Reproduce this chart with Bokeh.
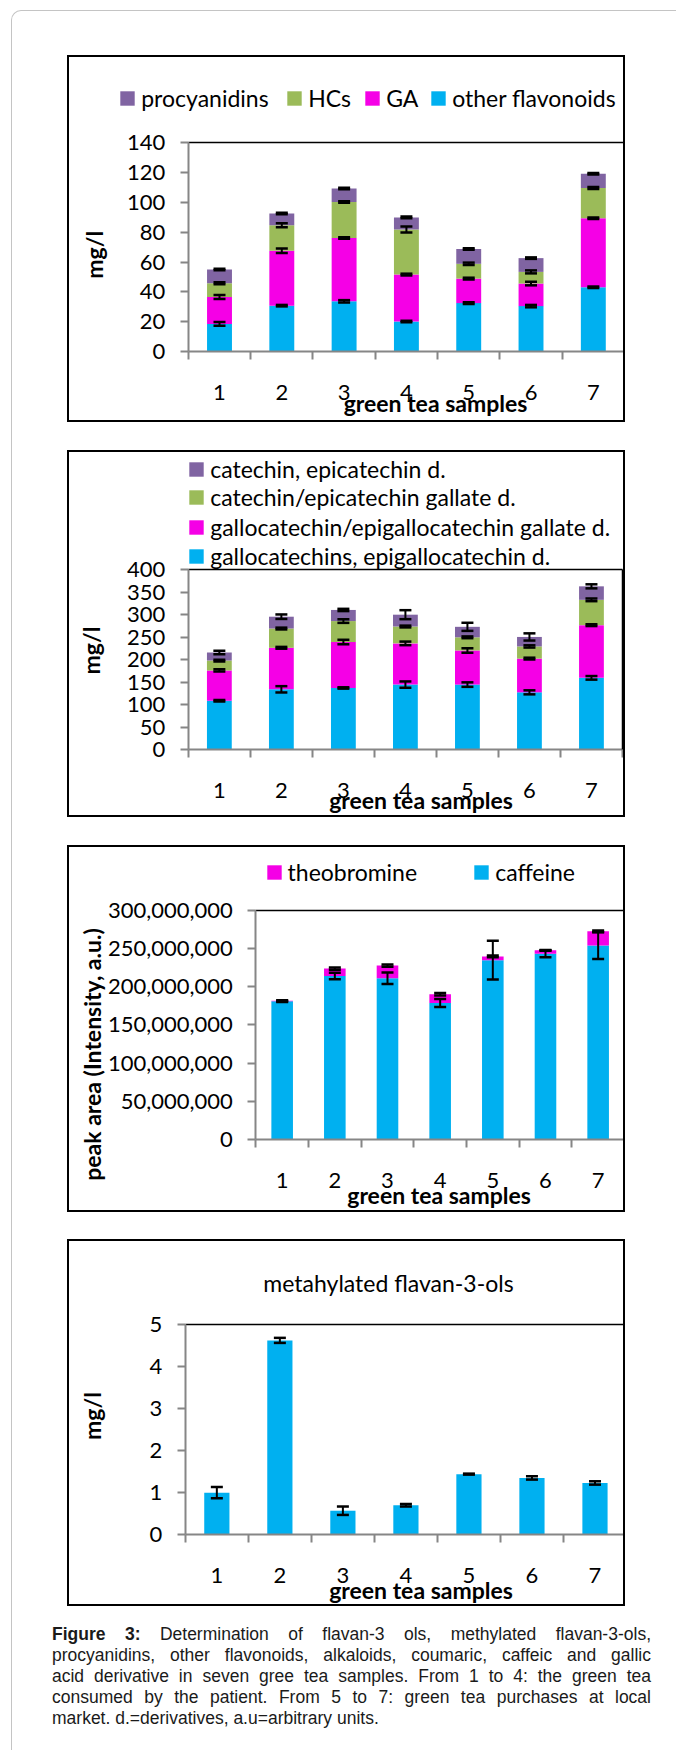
import numpy as np
from bokeh.plotting import figure
from bokeh.models import (ColumnDataSource, Range1d, FixedTicker, NumeralTickFormatter,
                          Legend, LegendItem, Whisker, TeeHead, Label, Div, LinearAxis)
from bokeh.layouts import column
from bokeh.embed import file_html
from bokeh.resources import INLINE

# ---------------- data ----------------
samples = ["1", "2", "3", "4", "5", "6", "7"]

# panel 1 (mg/l), stacked from bottom
p1_names = ["other flavonoids", "GA", "HCs", "procyanidins"]
p1_other_flavonoids = [18.6, 30.8, 33.7, 20.2, 32.5, 30.5, 43.1]
p1_GA = [18.0, 36.8, 42.4, 31.4, 16.4, 15.1, 46.2]
p1_HCs = [9.2, 17.0, 24.0, 30.1, 9.9, 7.8, 20.2]
p1_procyanidins = [9.2, 7.9, 9.0, 8.1, 9.9, 9.2, 9.5]
p1_err_other_flavonoids = [1.2, 0.5, 0.8, 0.5, 0.6, 0.8, 0.5]
p1_err_GA = [1.4, 1.5, 0.5, 0.6, 0.6, 1.2, 0.5]
p1_err_HCs = [0.6, 1.3, 0.5, 2.0, 0.8, 1.0, 0.6]
p1_err_procyanidins = [0.5, 0.5, 0.5, 0.6, 0.5, 0.5, 0.5]
p1_yticks = [0, 20, 40, 60, 80, 100, 120, 140]

# panel 2 (mg/l), stacked from bottom
p2_names = ["gallocatechins, epigallocatechin d.",
            "gallocatechin/epigallocatechin gallate d.",
            "catechin/epicatechin gallate d.",
            "catechin, epicatechin d."]
p2_gallocatechins = [108.8, 134.3, 137.3, 144.8, 144.8, 127.6, 159.8]
p2_gallocatechin_gallates = [67.6, 92.3, 102.1, 91.6, 75.8, 75.0, 117.1]
p2_catechin_gallates = [21.7, 42.8, 46.6, 37.5, 29.3, 27.0, 56.3]
p2_catechins = [18.0, 26.3, 24.7, 26.3, 23.3, 21.1, 30.0]
p2_err_gallocatechins = [1.5, 7.0, 1.5, 7.0, 5.0, 4.5, 4.0]
p2_err_gallocatechin_gallates = [2.5, 2.0, 5.0, 4.0, 5.0, 2.0, 2.0]
p2_err_catechin_gallates = [2.0, 2.0, 4.0, 2.0, 2.0, 2.5, 3.0]
p2_err_catechins = [4.0, 5.0, 2.5, 10.0, 9.0, 8.0, 4.5]
p2_yticks = [0, 50, 100, 150, 200, 250, 300, 350, 400]

# panel 3 (peak area), stacked from bottom
p3_names = ["caffeine", "theobromine"]
p3_caffeine = [180900000, 214000000, 210900000, 178700000, 234700000, 243100000, 253700000]
p3_theobromine = [600000, 9700000, 16700000, 11400000, 4900000, 4400000, 18900000]
p3_err_caffeine = [800000, 4200000, 7500000, 5300000, 25400000, 4500000, 17600000]
p3_err_theobromine = [800000, 1500000, 1500000, 1500000, 1000000, 500000, 1000000]
p3_yticks = [0, 50000000, 100000000, 150000000, 200000000, 250000000, 300000000]

# panel 4 (mg/l)
p4_methylated = [1.0, 4.62, 0.57, 0.70, 1.44, 1.35, 1.23]
p4_err = [0.135, 0.06, 0.10, 0.03, 0.012, 0.04, 0.04]
p4_yticks = [0, 1, 2, 3, 4, 5]

# ---------------- style / layout constants ----------------
BLUE, PINK, GREEN, PURPLE = "#00B0F0", "#F500E6", "#9BBB59", "#8064A2"
FONT = "Lato"
AXIS_GRAY = "#868686"
BORDER = 2
W, H = 554, 363          # drawing canvas of each panel (inside a 2px black box)
CANVAS_LEFT = 69         # page x of the canvas' left edge
xs = list(range(1, len(samples) + 1))
NCAT = len(samples)


def make_fig(ymax, yticks, box, margin_top, fmt=None):
    """box = plot-area (left, right, top, bottom) in canvas pixels."""
    x0, x1, yt, yb = box
    sx = NCAT / (x1 - x0)
    sy = ymax / (yb - yt)
    xr = Range1d(0.5 - x0 * sx, NCAT + 0.5 + (W - x1) * sx)
    yr = Range1d(-(H - yb) * sy, ymax + yt * sy)
    p = figure(width=W + 2 * BORDER, height=H + 2 * BORDER, x_range=xr, y_range=yr,
               output_backend="svg", toolbar_location=None, min_border=0,
               background_fill_color="white", border_fill_color="white",
               styles={"border": "%dpx solid #000" % BORDER})
    p.margin = (margin_top, 0, 0, 55)
    p.outline_line_color = None
    p.xgrid.visible = False
    p.ygrid.visible = False
    # x axis: labels at category centres, tick marks at category boundaries
    xa = p.xaxis[0]
    xa.fixed_location = 0
    xa.bounds = (0.5, NCAT + 0.5)
    xa.ticker = FixedTicker(ticks=xs, minor_ticks=[x - 0.5 for x in xs] + [xs[-1] + 0.5])
    xa.major_label_overrides = {x: s for x, s in zip(xs, samples)}
    xa.major_tick_out = 0
    xa.major_tick_in = 0
    xa.major_tick_line_color = None
    xa.minor_tick_out = 8
    xa.minor_tick_in = 0
    xa.minor_tick_line_color = AXIS_GRAY
    xa.minor_tick_line_width = 2
    xa.major_label_standoff = 25
    # y axis
    ya = p.yaxis[0]
    ya.fixed_location = 0.5
    ya.bounds = (0, ymax)
    ya.ticker = FixedTicker(ticks=yticks, minor_ticks=[])
    if fmt is not None:
        ya.formatter = fmt
    ya.major_tick_out = 8
    ya.major_tick_in = 0
    ya.major_tick_line_color = AXIS_GRAY
    ya.major_tick_line_width = 2
    ya.minor_tick_line_color = None
    ya.major_label_standoff = 15
    for ax in (xa, ya):
        ax.axis_line_color = AXIS_GRAY
        ax.axis_line_width = 2
        ax.major_label_text_font = FONT
        ax.major_label_text_font_size = "22px"
        ax.major_label_text_color = "#000000"
    # thin black top and right edges of the plot area
    top = LinearAxis(fixed_location=ymax, bounds=(0.5, NCAT + 0.5), ticker=FixedTicker(ticks=[]),
                     axis_line_color="black", axis_line_width=1.5,
                     major_tick_line_color=None, minor_tick_line_color=None)
    right = LinearAxis(fixed_location=NCAT + 0.5, bounds=(0, ymax), ticker=FixedTicker(ticks=[]),
                       axis_line_color="black", axis_line_width=1.5,
                       major_tick_line_color=None, minor_tick_line_color=None)
    p.add_layout(top, "above")
    p.add_layout(right, "right")
    return p


def add_label(p, cb, X, Y, text, size="23px", bold=True, angle=0.0):
    """(X, Y) page position of the text centre; cb = page y of canvas bottom."""
    p.add_layout(Label(x=X - CANVAS_LEFT, y=cb - Y, x_units="screen", y_units="screen", text=text,
                       text_font=FONT, text_font_size=size,
                       text_font_style="bold" if bold else "normal",
                       text_align="center", text_baseline="middle", angle=angle,
                       text_color="#000000"))


def add_item_legend(p, cb, renderer, label, sq_left, sq_cy, Hrow=23):
    vx = sq_left - CANVAS_LEFT - 1.8
    vy = cb - (sq_cy - 9) - Hrow
    leg = Legend(items=[LegendItem(label=label, renderers=[renderer])], location=(vx, vy),
                 orientation="horizontal", border_line_color=None, background_fill_alpha=0,
                 padding=0, margin=0, spacing=0, glyph_width=18, glyph_height=18,
                 label_standoff=5, label_height=18, label_text_font=FONT,
                 label_text_font_size="23px", label_text_color="#000000")
    p.add_layout(leg)


def add_whiskers(p, tops, errs):
    base, upper, lower = [], [], []
    for t_series, e_series in zip(tops, errs):
        for x, t, e in zip(xs, t_series, e_series):
            base.append(x)
            upper.append(t + e)
            lower.append(t - e)
    src = ColumnDataSource(dict(base=base, upper=upper, lower=lower))
    w = Whisker(source=src, base="base", upper="upper", lower="lower",
                line_color="black", line_width=2, level="annotation",
                upper_head=TeeHead(size=12, line_width=2.5, line_color="black"),
                lower_head=TeeHead(size=12, line_width=2.5, line_color="black"))
    p.add_layout(w)


def stacked(p, series, colors, bar_w):
    keys = ["s%d" % i for i in range(len(series))]
    data = {"x": xs}
    for k, s in zip(keys, series):
        data[k] = s
    src = ColumnDataSource(data)
    rs = p.vbar_stack(keys, x="x", width=bar_w, fill_color=colors, line_color=None, source=src)
    tops = np.cumsum(np.array(series, dtype=float), axis=0)
    return rs, tops


# ---------------- panel 1 ----------------
CB1 = 57 + H
p1 = make_fig(140, p1_yticks, (118, 551, 84, 291), 44)
r1, tops1 = stacked(p1, [p1_other_flavonoids, p1_GA, p1_HCs, p1_procyanidins],
                    [BLUE, PINK, GREEN, PURPLE], 0.4)
add_whiskers(p1, tops1, [p1_err_other_flavonoids, p1_err_GA, p1_err_HCs, p1_err_procyanidins])
add_item_legend(p1, CB1, r1[3], p1_names[3], 120, 94)
add_item_legend(p1, CB1, r1[2], p1_names[2], 287, 94)
add_item_legend(p1, CB1, r1[1], p1_names[1], 365, 94)
add_item_legend(p1, CB1, r1[0], p1_names[0], 431, 94)
add_label(p1, CB1, 93.5, 250.3, "mg/l", angle=np.pi / 2)
add_label(p1, CB1, 435, 398, "green tea samples")

# ---------------- panel 2 ----------------
CB2 = 452 + H
p2 = make_fig(400, p2_yticks, (118, 549, 116, 294), 28)
r2, tops2 = stacked(p2, [p2_gallocatechins, p2_gallocatechin_gallates, p2_catechin_gallates,
                         p2_catechins], [BLUE, PINK, GREEN, PURPLE], 0.4)
add_whiskers(p2, tops2, [p2_err_gallocatechins, p2_err_gallocatechin_gallates,
                         p2_err_catechin_gallates, p2_err_catechins])
add_item_legend(p2, CB2, r2[3], p2_names[3], 189, 465)
add_item_legend(p2, CB2, r2[2], p2_names[2], 189, 493.3)
add_item_legend(p2, CB2, r2[1], p2_names[1], 189, 522.7)
add_item_legend(p2, CB2, r2[0], p2_names[0], 189, 551.7)
add_label(p2, CB2, 90.7, 646, "mg/l", angle=np.pi / 2)
add_label(p2, CB2, 420.5, 795.5, "green tea samples")

# ---------------- panel 3 ----------------
CB3 = 847 + H
p3 = make_fig(300000000, p3_yticks, (185, 551, 62, 289), 28,
              fmt=NumeralTickFormatter(format="0,0"))
r3, tops3 = stacked(p3, [p3_caffeine, p3_theobromine], [BLUE, PINK], 0.41)
add_whiskers(p3, tops3, [p3_err_caffeine, p3_err_theobromine])
add_item_legend(p3, CB3, r3[1], p3_names[1], 266.4, 868.3)
add_item_legend(p3, CB3, r3[0], p3_names[0], 474, 868.3)
add_label(p3, CB3, 91, 1050, "peak area (Intensity, a.u.)", angle=np.pi / 2)
add_label(p3, CB3, 438.6, 1190.5, "green tea samples")

# ---------------- panel 4 ----------------
CB4 = 1241 + H
p4 = make_fig(5, p4_yticks, (115, 553, 82, 290), 27)
src4 = ColumnDataSource(dict(x=xs, v=p4_methylated))
p4.vbar(x="x", top="v", width=0.4, fill_color=BLUE, line_color=None, source=src4)
add_whiskers(p4, [p4_methylated], [p4_err])
add_label(p4, CB4, 388, 1278.3, "metahylated flavan-3-ols", size="23px", bold=False)
add_label(p4, CB4, 91, 1411.5, "mg/l", angle=np.pi / 2)
add_label(p4, CB4, 420.5, 1585, "green tea samples")

# ---------------- caption ----------------
cap_lines = [
    "<b>Figure 3:</b> Determination of flavan-3 ols, methylated flavan-3-ols,",
    "procyanidins, other flavonoids, alkaloids, coumaric, caffeic and gallic",
    "acid derivative in seven gree tea samples. From 1 to 4: the green tea",
    "consumed by the patient. From 5 to 7: green tea purchases at local",
    "market. d.=derivatives, a.u=arbitrary units.",
]
inner = "".join(
    '<div style="text-align:justify;text-align-last:%s">%s</div>'
    % ("justify" if i < len(cap_lines) - 1 else "left", t)
    for i, t in enumerate(cap_lines))
html = ('<div style="width:599px;font-family:\'Liberation Sans\', Arial, sans-serif;'
        'font-size:17.5px;line-height:21px;color:#1a1a1a">%s</div>' % inner)
cap = Div(text=html, width=599, height=110, margin=(18, 0, 0, 40))

layout = column(p1, p2, p3, p4, cap, width=665, height=1740, margin=(10, 0, 0, 11),
                styles={"border-top": "1px solid #c4c4c4", "border-left": "1px solid #c4c4c4",
                        "border-top-left-radius": "10px"})

open("out.html", "w").write(file_html(layout, INLINE))
